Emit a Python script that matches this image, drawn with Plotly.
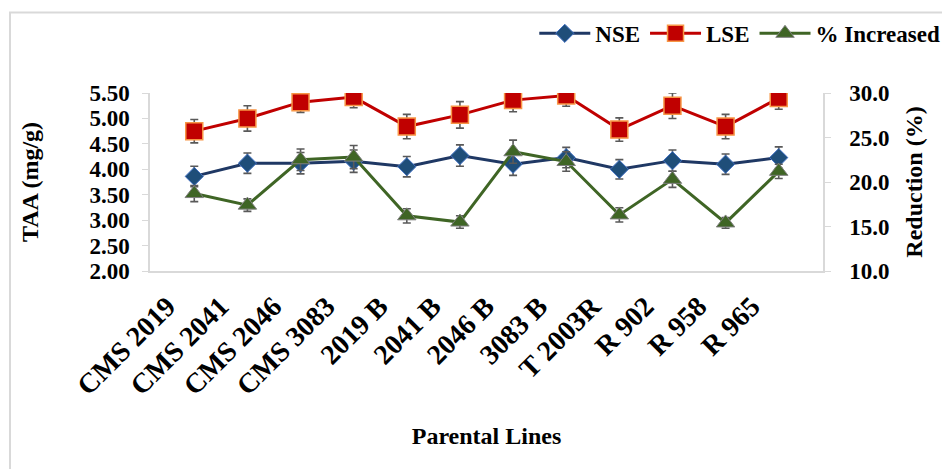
import plotly.graph_objects as go

categories = ["CMS 2019", "CMS 2041", "CMS 2046", "CMS 3083", "2019 B", "2041 B",
              "2046 B", "3083 B", "T 2003R", "R 902", "R 958", "R 965"]
nse = [3.86, 4.12, 4.12, 4.16, 4.05, 4.27, 4.10, 4.23, 4.00, 4.17, 4.10, 4.23]
nse_err = [0.20, 0.20, 0.21, 0.22, 0.20, 0.21, 0.22, 0.20, 0.19, 0.21, 0.20, 0.21]
lse = [4.75, 5.00, 5.32, 5.42, 4.84, 5.07, 5.36, 5.45, 4.78, 5.25, 4.84, 5.40]
lse_err = [0.23, 0.25, 0.20, 0.21, 0.24, 0.26, 0.23, 0.21, 0.23, 0.25, 0.24, 0.22]
pct = [18.7, 17.4, 22.5, 22.8, 16.2, 15.5, 23.4, 22.3, 16.3, 20.3, 15.4, 21.2]
pct_err = [0.9, 0.7, 1.2, 1.3, 0.8, 0.7, 1.3, 1.1, 0.8, 0.9, 0.6, 0.8]

FONT = "Liberation Serif"
ERR = dict(type="data", visible=True, color="#595959", thickness=1.6, width=4)

fig = go.Figure()
fig.add_trace(go.Scatter(
    x=categories, y=nse, name="NSE", mode="lines+markers",
    line=dict(color="#1F3864", width=3),
    marker=dict(symbol="diamond", size=14, color="#1F4E79", line=dict(color="#4472C4", width=1)),
    error_y=dict(array=nse_err, **ERR)))
fig.add_trace(go.Scatter(
    x=categories, y=lse, name="LSE", mode="lines+markers",
    line=dict(color="#C00000", width=3),
    marker=dict(symbol="square", size=17, color="#C00000", line=dict(color="#F79646", width=1.5)),
    error_y=dict(array=lse_err, **ERR)))
fig.add_trace(go.Scatter(
    x=categories, y=pct, name="% Increased", mode="lines+markers", yaxis="y2",
    line=dict(color="#3F6525", width=3),
    marker=dict(symbol="triangle-up", size=16, color="#3F6525", line=dict(color="#7F7F7F", width=1)),
    error_y=dict(array=pct_err, **ERR)))

ytick_font = dict(family=FONT, size=23, color="black", weight="bold")
xtick_font = dict(family=FONT, size=28, color="black", weight="bold")
title_font = dict(family=FONT, size=24, color="black", weight="bold")
fig.update_layout(
    width=942, height=461,
    margin=dict(l=142, r=127, t=85, b=198, autoexpand=False),
    paper_bgcolor="white", plot_bgcolor="white",
    font=dict(family=FONT, color="black"),
    showlegend=True,
    legend=dict(orientation="h", x=0.571, xanchor="left", y=1.335, yanchor="middle",
                font=dict(family=FONT, size=23, color="black", weight="bold"),
                bgcolor="rgba(0,0,0,0)", itemwidth=51, tracegroupgap=0),
    xaxis=dict(type="category", tickangle=-45, tickfont=xtick_font, automargin=False,
               showline=True, linecolor="#D9D9D9", linewidth=1.5, mirror=False,
               ticks="", showgrid=False, ticklabelshift=-27, ticklabelstandoff=6,
               title=dict(text="Parental Lines", font=title_font, standoff=27)),
    yaxis=dict(range=[2, 5.5], dtick=0.5, tickformat=".2f", tickfont=ytick_font, automargin=False,
               showline=True, linecolor="#D9D9D9", linewidth=1.5, ticks="outside",
               ticklen=6, tickcolor="#D9D9D9", showgrid=False, zeroline=False,
               ticklabelstandoff=8,
               title=dict(text="TAA (mg/g)", font=title_font, standoff=44)),
    yaxis2=dict(range=[10, 30], dtick=5, tickformat=".1f", tickfont=ytick_font, automargin=False,
                overlaying="y", side="right",
                showline=True, linecolor="#D9D9D9", linewidth=1.5, ticks="outside",
                ticklen=6, tickcolor="#D9D9D9", showgrid=False, zeroline=False,
                ticklabelstandoff=14,
                title=dict(text="Reduction (%)", font=title_font, standoff=17)),
    shapes=[dict(type="rect", xref="paper", yref="paper",
                 x0=-0.208, x1=1.25, y0=-1.2, y1=1.4526,
                 line=dict(color="#D9D9D9", width=2), fillcolor="rgba(0,0,0,0)", layer="below")],
)

fig.write_html("out.html")
